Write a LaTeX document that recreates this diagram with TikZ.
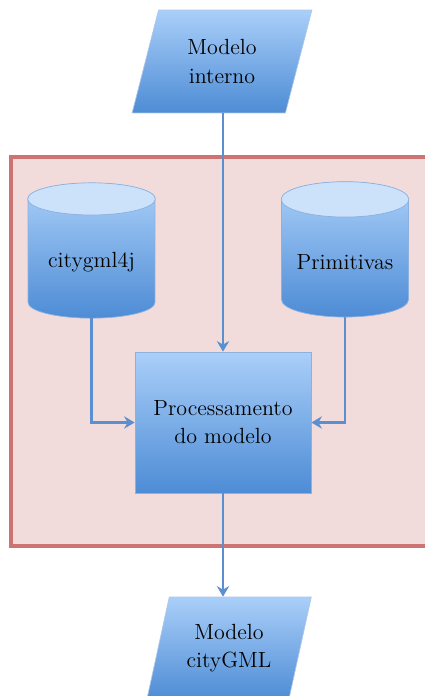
\documentclass[tikz,border=0pt]{standalone}
\usepackage{tikz}
\usetikzlibrary{shapes,arrows.meta,positioning,calc}
\definecolor{boxtop}{HTML}{AACFF9}
\definecolor{boxbot}{HTML}{4D8CD5}
\definecolor{capfill}{HTML}{CCE1FA}
\definecolor{edgeblue}{HTML}{5B8FD0}
\definecolor{areafill}{HTML}{F2DCDB}
\definecolor{arearim}{HTML}{CD7371}
\newcommand{\lblfont}{\fontsize{12.5}{16}\selectfont}
\tikzset{
	proc/.style={rectangle,draw=edgeblue!70,top color=boxtop,bottom color=boxbot,minimum width=3.52cm,minimum height=2.82cm,align=center,font=\lblfont},
	io/.style={trapezium,trapezium left angle=73,trapezium right angle=107,trapezium stretches=true,draw=edgeblue!50,top color=boxtop,bottom color=boxbot,minimum height=2.06cm,align=center,font=\lblfont},
	store/.style={cylinder,shape border rotate=90,aspect=0.32,draw=edgeblue!70,top color=boxtop,bottom color=boxbot,minimum width=2.54cm,minimum height=2.7cm,font=\lblfont},
	storecap/.style={fill=capfill,draw=edgeblue!70},
	area/.style={fill=areafill,draw=arearim,line width=2pt},
	diredge/.style={->,>={Stealth[width=7pt,length=6pt]},color=edgeblue,line width=1.2pt}
}
\begin{document}
\begin{tikzpicture}[x=0.02cm,y=-0.02cm]
	\useasboundingbox (0,0) rectangle (424,696);
	%%% grey area
	\draw[area] (11,157) rectangle (428,546);
	%%% nodes
	\node[io,minimum width=3.6cm] (in) at (222,61.5) {Modelo\\interno};
	\node[store] (lib) at (91.5,262) {citygml4j};
	\node[store] (prim) at (345,262) {Primitivas};
	\node[proc] (proc) at (223,422.5) {Processamento\\do modelo};
	\node[io,minimum width=3.3cm] (out) at (229,648.5) {Modelo\\cityGML};
	%%% caps of the stores
	\foreach \s in {lib,prim}
		\draw[storecap] let \p1=($(\s.before top)!0.5!(\s.after top)$), \p2=(\s.top), \p3=(\s.before top)
			in (\p1) ellipse [x radius={abs(\x3-\x1)},y radius={abs(\y2-\y1)}];
	%%% edges
	\draw[diredge] (in.south -| proc.north) -- (proc.north);
	\draw[diredge] (lib.bottom) |- (proc.west);
	\draw[diredge] (prim.bottom) |- (proc.east);
	\draw[diredge] (proc.south) -- (proc.south |- out.north);
\end{tikzpicture}
\end{document}
